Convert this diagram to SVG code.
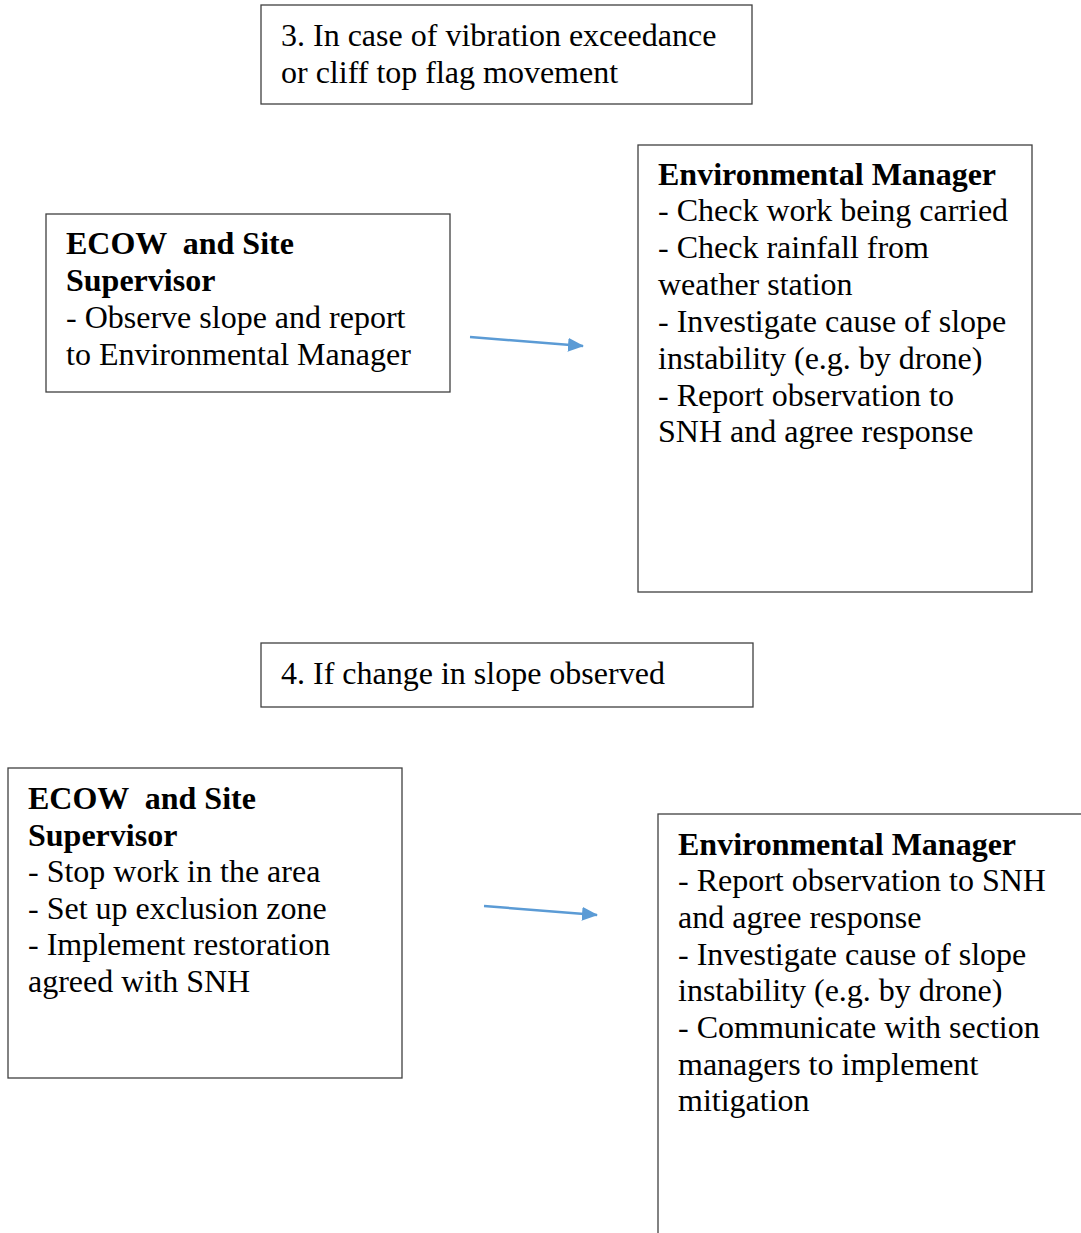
<svg xmlns="http://www.w3.org/2000/svg" width="1081" height="1233" viewBox="0 0 1081 1233">
<style>
.box{fill:#fff;stroke:#404040;stroke-width:1.3}
text{font-family:"Liberation Serif","Times New Roman",serif;font-size:32px;fill:#000}
.b{font-weight:bold;white-space:pre}
.conn{stroke:#5b9bd5;stroke-width:2.5;fill:none}
</style>
<defs>
<marker id="ah" viewBox="0 0 16 14" refX="15" refY="7" markerWidth="16" markerHeight="14" orient="auto" markerUnits="userSpaceOnUse">
<path d="M0,0 L16,7 L0,14 z" fill="#5b9bd5"/>
</marker>
</defs>
<rect width="1081" height="1233" fill="#fff"/>
<g id="step3">
<rect class="box" x="261" y="5" width="491" height="99"/>
<text x="281" y="46">3. In case of vibration exceedance</text>
<text x="281" y="83">or cliff top flag movement</text>
</g>
<g id="ecow1">
<rect class="box" x="46" y="214" width="404" height="178"/>
<text x="66" y="254" class="b" xml:space="preserve">ECOW  and Site</text>
<text x="66" y="291" class="b">Supervisor</text>
<text x="66" y="328">- Observe slope and report</text>
<text x="66" y="365">to Environmental Manager</text>
</g>
<g id="em1">
<rect class="box" x="638" y="145" width="394" height="447"/>
<text x="658" y="185" class="b">Environmental Manager</text>
<text x="658" y="221">- Check work being carried</text>
<text x="658" y="258">- Check rainfall from</text>
<text x="658" y="295">weather station</text>
<text x="658" y="332">- Investigate cause of slope</text>
<text x="658" y="369">instability (e.g. by drone)</text>
<text x="658" y="406">- Report observation to</text>
<text x="658" y="442">SNH and agree response</text>
</g>
<g id="step4">
<rect class="box" x="261" y="643" width="492" height="64"/>
<text x="281" y="684">4. If change in slope observed</text>
</g>
<g id="ecow2">
<rect class="box" x="8" y="768" width="394" height="310"/>
<text x="28" y="809" class="b" xml:space="preserve">ECOW  and Site</text>
<text x="28" y="846" class="b">Supervisor</text>
<text x="28" y="882">- Stop work in the area</text>
<text x="28" y="919">- Set up exclusion zone</text>
<text x="28" y="955">- Implement restoration</text>
<text x="28" y="992">agreed with SNH</text>
</g>
<g id="em2">
<rect class="box" x="658" y="814" width="440" height="440"/>
<text x="678" y="855" class="b">Environmental Manager</text>
<text x="678" y="891">- Report observation to SNH</text>
<text x="678" y="928">and agree response</text>
<text x="678" y="965">- Investigate cause of slope</text>
<text x="678" y="1001">instability (e.g. by drone)</text>
<text x="678" y="1038">- Communicate with section</text>
<text x="678" y="1075">managers to implement</text>
<text x="678" y="1111">mitigation</text>
</g>
<g id="connectors">
<line class="conn" x1="470" y1="337" x2="583" y2="346" marker-end="url(#ah)"/>
<line class="conn" x1="484" y1="906" x2="597" y2="915" marker-end="url(#ah)"/>
</g>
</svg>
